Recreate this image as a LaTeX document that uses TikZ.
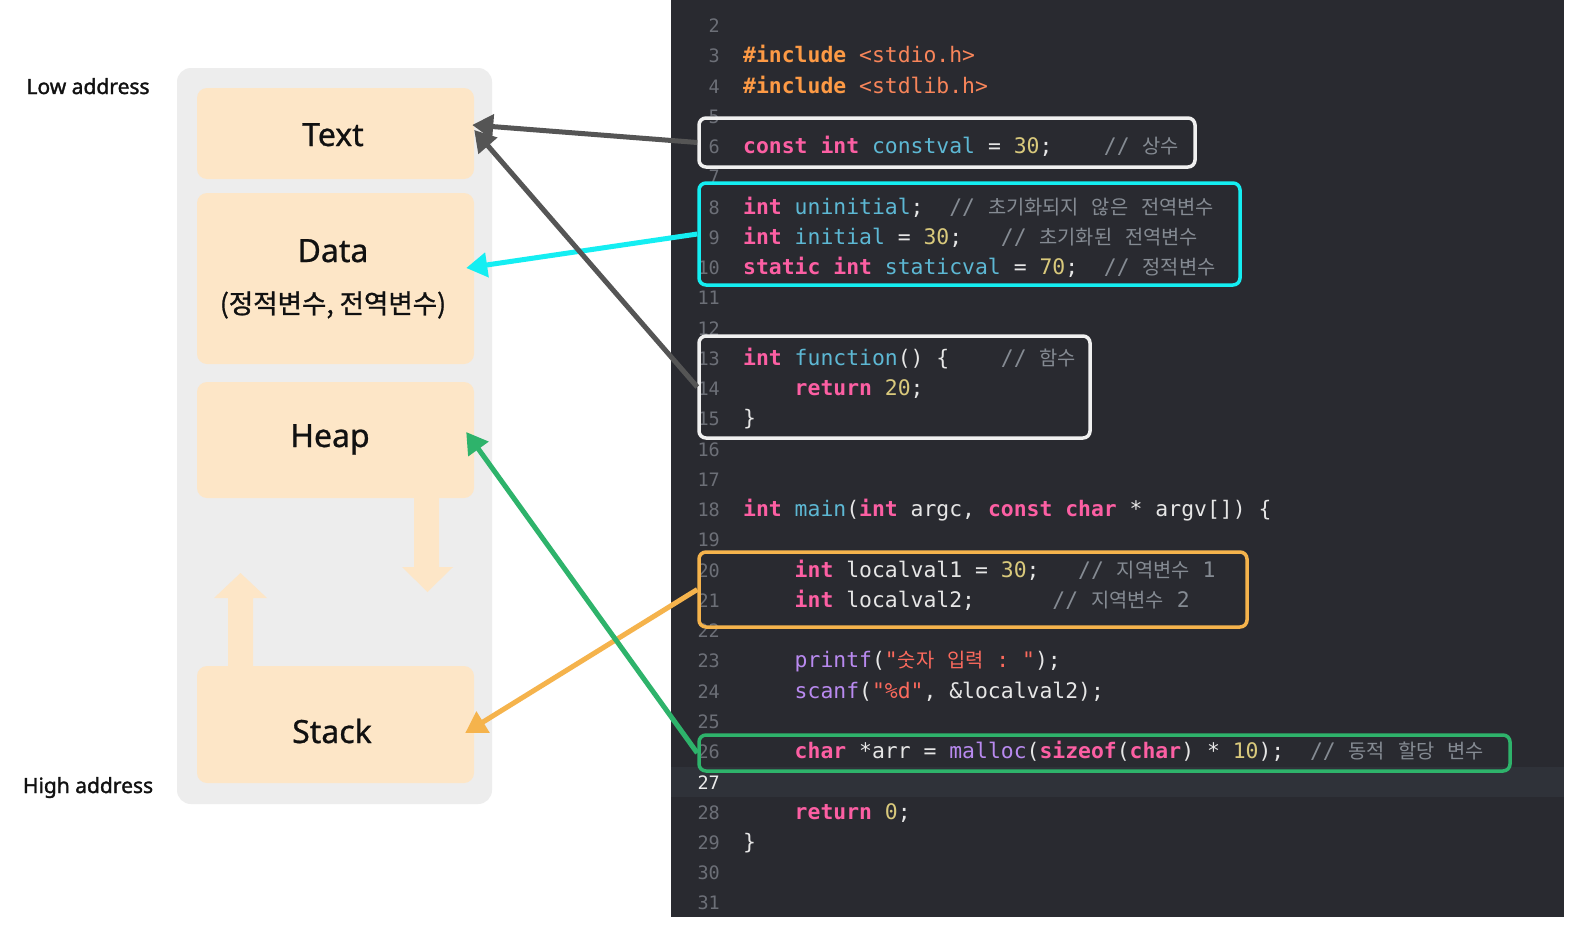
\documentclass[tikz,border=0pt]{standalone}
\usepackage{fontspec}
\usetikzlibrary{arrows.meta,calc}
\setmainfont{Noto Sans}
\setmonofont{DejaVu Sans Mono}
\newfontfamily\kr{Noto Sans CJK KR}
\newfontfamily\krlbl{Noto Sans CJK KR}[FakeBold=1]
\newfontfamily\addrfont{Noto Sans}[FakeBold=1.5]
\newfontfamily\segfont{Noto Sans}[FakeBold=0.8]

\definecolor{panelgray}{HTML}{EDEDED}
\definecolor{peach}{HTML}{FDE6C7}
\definecolor{codebg}{HTML}{292A30}
\definecolor{curline}{HTML}{2F3239}
\definecolor{kwc}{HTML}{FC5FA3}
\definecolor{idc}{HTML}{5DB8D4}
\definecolor{numcol}{HTML}{D9C97C}
\definecolor{strcol}{HTML}{FC6A5D}
\definecolor{precol}{HTML}{FD9A45}
\definecolor{inccol}{HTML}{F8855A}
\definecolor{cmtcol}{HTML}{858B93}
\definecolor{plaincol}{HTML}{E6E6E6}
\definecolor{fncol}{HTML}{B98AF0}
\definecolor{lncol}{HTML}{6C6F77}
\definecolor{arrgray}{HTML}{555555}
\definecolor{arrcyan}{HTML}{14EEF2}
\definecolor{arrgreen}{HTML}{2EB36B}
\definecolor{arrorange}{HTML}{F5B34C}
\definecolor{boxwhite}{HTML}{F0F0F0}
\definecolor{inkblack}{HTML}{111111}

\newcommand\kwd[1]{{\color{kwc}\bfseries #1}}
\newcommand\idn[1]{{\color{idc}#1}}
\newcommand\numc[1]{{\color{numcol}#1}}
\newcommand\cmtc[1]{{\color{cmtcol}#1}}
\newcommand\strc[1]{{\color{strcol}#1}}
\newcommand\fnc[1]{{\color{fncol}#1}}
\newcommand\kor[1]{{\kr\fontsize{19.8}{22}\selectfont #1}}

\tikzset{
  codeline/.style={anchor=base west, inner sep=0pt, text=plaincol,
    font=\ttfamily\fontsize{21.4}{24}\selectfont},
  lnum/.style={anchor=base east, inner sep=0pt, text=lncol,
    font=\ttfamily\fontsize{18.5}{20}\selectfont},
  codebox/.style={rectangle, rounded corners=7pt, line width=3.5pt, inner sep=0pt, fill=none},
  membox/.style={rectangle, rounded corners=10pt, fill=peach, draw=none, inner sep=0pt, minimum width=277},
  seglabel/.style={anchor=base, inner sep=0pt, text=inkblack,
    font=\segfont\fontsize{32}{36}\selectfont},
  addrlabel/.style={anchor=base, inner sep=0pt, text=inkblack,
    font=\addrfont\fontsize{21}{24}\selectfont},
  ptr/.style={line width=5pt, -{Triangle[length=21pt,width=24pt]}}
}

\begin{document}
\begin{tikzpicture}[x=1pt,y=-1pt]
\useasboundingbox (0,0) rectangle (1581,926);
\fill[white] (0,0) rectangle (1581,926);

% memory layout panel
\node[fill=panelgray, rounded corners=14pt, inner sep=0pt,
      minimum width=315, minimum height=736] (mem) at (334.5,436) {};
\node[membox, minimum height=91]  (text)  at (335.5,133.5) {};
\node[membox, minimum height=171] (data)  at (335.5,278.5) {};
\node[membox, minimum height=116] (heap)  at (335.5,440) {};
\node[membox, minimum height=117] (stack) at (335.5,724.5) {};

% growth arrows
\fill[peach] (414,497) -- (414,567) -- (402,567) -- (427.5,592) -- (453,567) -- (439,567) -- (439,497) -- cycle;
\fill[peach] (228,667) -- (228,598) -- (214,598) -- (240.5,573) -- (267,598) -- (253,598) -- (253,667) -- cycle;

\node[seglabel] (ltext)  at (333,146) {Text};
\node[seglabel] (ldata)  at (333,262) {Data};
\node[inner sep=0pt, text=inkblack, font=\krlbl\fontsize{26.5}{30}\selectfont] (ldatakr) at (333,305) {(정적변수, 전역변수)};
\node[seglabel] (lheap)  at (330,447) {Heap};
\node[seglabel] (lstack) at (332,743) {Stack};

\node[addrlabel] (low)  at (88,94)  {Low address};
\node[addrlabel] (high) at (88,793) {High address};

% code panel
\fill[codebg] (671,0) rectangle (1564,917);
\fill[curline] (671,766.5) rectangle (1564,796.5);

\foreach \n in {2,...,26,28,29,30,31}
  \node[lnum] (ln\n) at (720,{-27.8+\n*30.25}) {\n};
\node[lnum, text=white!92!black] (ln27) at (720,789) {27};

\node[codeline] (c3) at (743,62.95) {{\color{precol}\bfseries \#include}~{\color{inccol}<stdio.h>}};
\node[codeline] (c4) at (743,93.2) {{\color{precol}\bfseries \#include}~{\color{inccol}<stdlib.h>}};
\node[codeline] (c6) at (743,153.7) {\kwd{const}~\kwd{int}~\idn{constval}~=~\numc{30};~~~~\cmtc{//~\kor{상수}}};
\node[codeline] (c8) at (743,214.2) {\kwd{int}~\idn{uninitial};~~\cmtc{//~\kor{초기화되지}~\kor{않은}~\kor{전역변수}}};
\node[codeline] (c9) at (743,244.45) {\kwd{int}~\idn{initial}~=~\numc{30};~~~\cmtc{//~\kor{초기화된}~\kor{전역변수}}};
\node[codeline] (c10) at (743,274.7) {\kwd{static}~\kwd{int}~\idn{staticval}~=~\numc{70};~~\cmtc{//~\kor{정적변수}}};
\node[codeline] (c13) at (743,365.45) {\kwd{int}~\idn{function}()~\{~~~~\cmtc{//~\kor{함수}}};
\node[codeline] (c14) at (743,395.7) {~~~~\kwd{return}~\numc{20};};
\node[codeline] (c15) at (743,425.95) {\}};
\node[codeline] (c18) at (743,516.7) {\kwd{int}~\idn{main}(\kwd{int}~argc,~\kwd{const}~\kwd{char}~*~argv[])~\{};
\node[codeline] (c20) at (743,577.2) {~~~~\kwd{int}~localval1~=~\numc{30};~~~\cmtc{//~\kor{지역변수}~1}};
\node[codeline] (c21) at (743,607.45) {~~~~\kwd{int}~localval2;~~~~~~\cmtc{//~\kor{지역변수}~2}};
\node[codeline] (c23) at (743,667.95) {~~~~\fnc{printf}(\strc{"\kor{숫자}~\kor{입력}~:~"});};
\node[codeline] (c24) at (743,698.2) {~~~~\fnc{scanf}(\strc{"\%d"},~\&localval2);};
\node[codeline] (c26) at (743,758.7) {~~~~\kwd{char}~*arr~=~\fnc{malloc}(\kwd{sizeof}(\kwd{char})~*~\numc{10});~~\cmtc{//~\kor{동적}~\kor{할당}~\kor{변수}}};
\node[codeline] (c28) at (743,819.2) {~~~~\kwd{return}~\numc{0};};
\node[codeline] (c29) at (743,849.45) {\}};

% highlight boxes
\node[codebox, draw=boxwhite, minimum width=496, minimum height=49]  (cb6)  at (947,142.5) {};
\node[codebox, draw=arrcyan, minimum width=541, minimum height=102]  (cbd)  at (969.5,234) {};
\node[codebox, draw=boxwhite, minimum width=391, minimum height=102] (cbf)  at (894.5,387) {};
\node[codebox, draw=arrorange, minimum width=548, minimum height=75] (cbl)  at (973,589.5) {};
\node[codebox, draw=arrgreen, minimum width=811, minimum height=36]  (cbm)  at (1104.5,753) {};

% pointers
\draw[ptr, arrcyan] (cbd.west) -- ($(data.east)+(-8,-10.5)$);
\draw[ptr, arrgray] (cb6.west) -- ($(text.east)+(-2,-8.5)$);
\draw[ptr, arrgray] (cbf.west) -- ($(text.east)+(0,-3.5)$);
\draw[ptr, arrorange] (cbl.west) -- ($(stack.east)+(-9,8.5)$);
\draw[ptr, arrgreen] (cbm.west) -- ($(heap.east)+(-8,-8)$);
\end{tikzpicture}
\end{document}
